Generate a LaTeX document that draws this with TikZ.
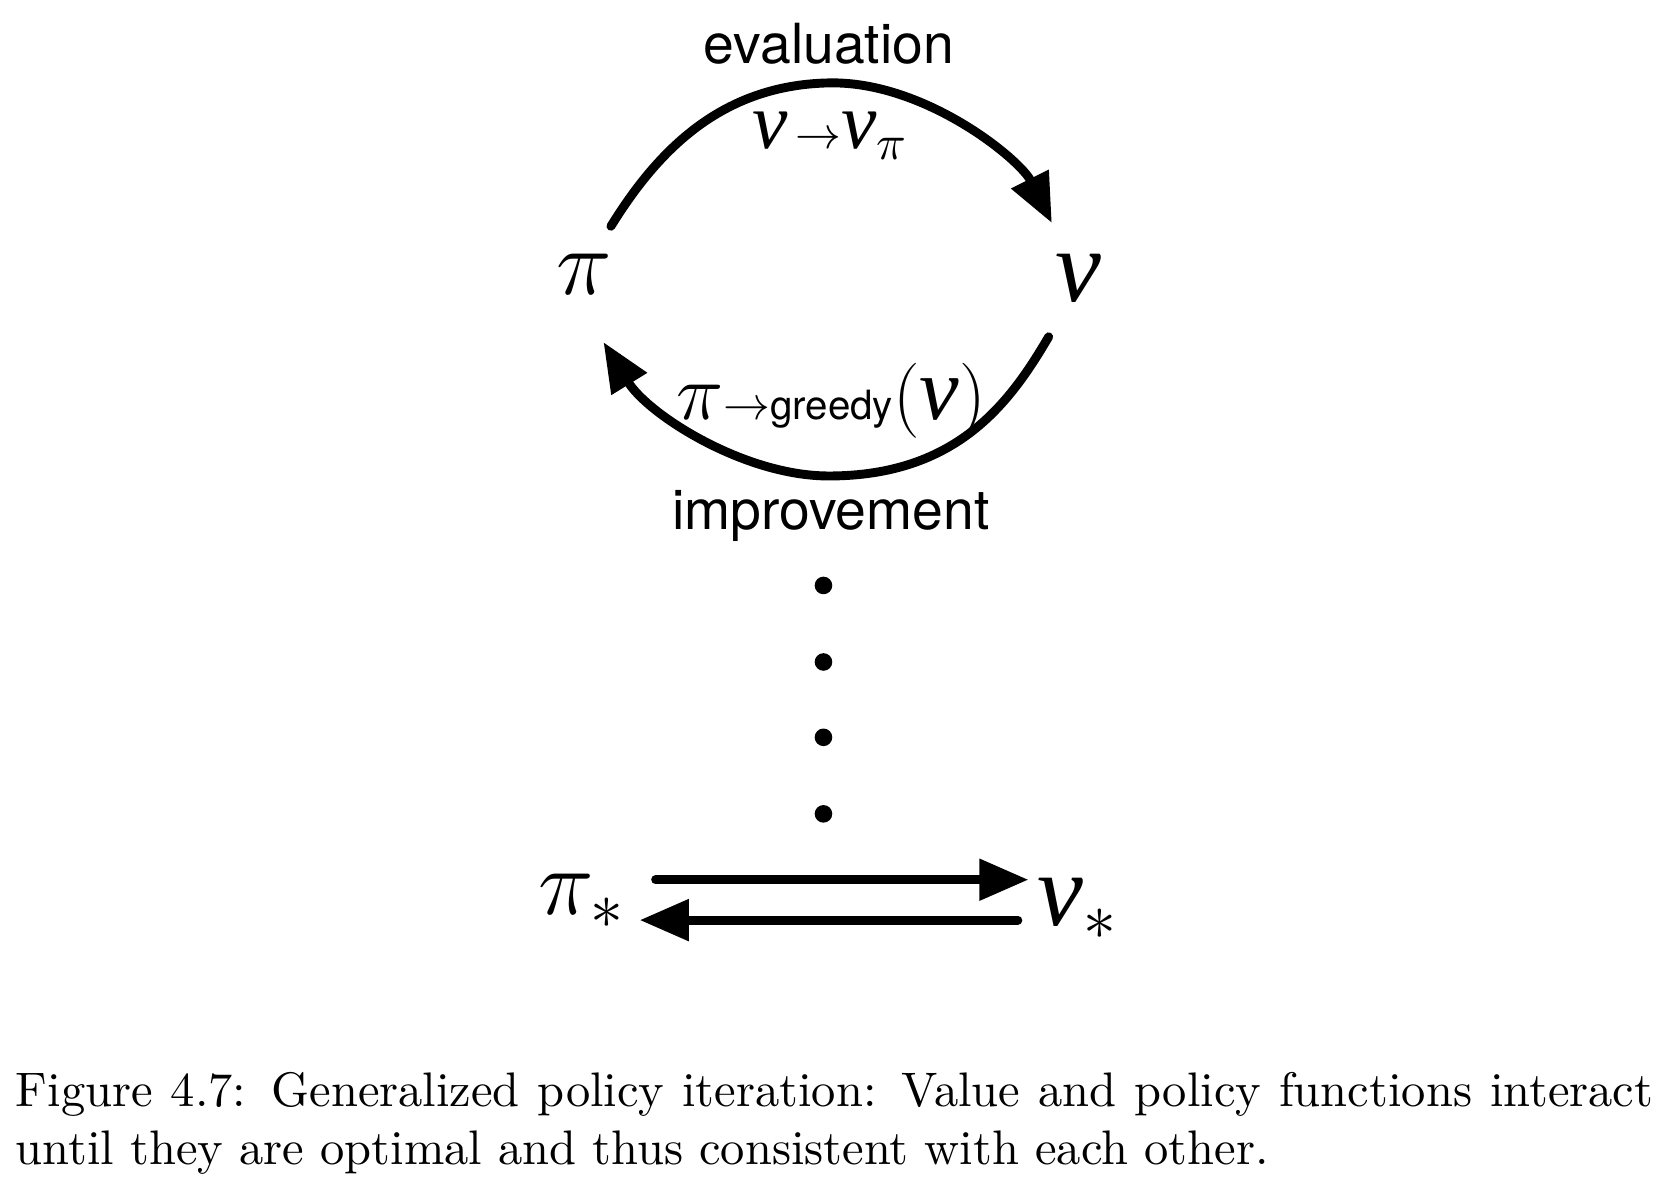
\documentclass[tikz,border=0pt]{standalone}
\usepackage{fix-cm}
\usepackage{amssymb,amsmath}
\usepackage{fontspec}
\newfontfamily\helv{TeX Gyre Heros}
\newfontfamily\tmsit{Liberation Serif Italic}
\usetikzlibrary{arrows.meta}

\begin{document}
\begin{tikzpicture}[conn/.style={line width=1.9pt,line cap=round,-{Triangle[length=10.5pt,width=8.5pt]}},
	word/.style={font=\helv\fontsize{11.8}{13}\selectfont},
	sym/.style={font=\fontsize{20}{24}\selectfont},
	vsym/.style={font=\tmsit\fontsize{22}{26}\selectfont}]
		\useasboundingbox (0,0) rectangle (12.495,8.895);
		\node[sym] (pi) at (4.383,6.839) {$\pi$};
		\node[vsym] (v) at (8.088,6.807) {v};
		\node[word,anchor=base] (evallbl) at (6.216,8.417) {evaluation};
		\node[anchor=base] (evalmath) at (6.23,7.78) {{\tmsit\fontsize{17}{20}\selectfont v}\,{\fontsize{9.5}{11}\selectfont$\to$}{\tmsit\fontsize{17}{20}\selectfont v}{\fontsize{15}{18}\selectfont$_\pi$}};
		\node[anchor=base] (imprmath) at (6.232,5.747) {{\fontsize{17}{20}\selectfont$\pi$}{\fontsize{10}{11}\selectfont$\to$}{\helv\fontsize{8.6}{10}\selectfont greedy}{\fontsize{16}{19}\selectfont(}{\tmsit\fontsize{19}{22}\selectfont v}{\fontsize{16}{19}\selectfont)}};
		\node[word,anchor=base] (imprlbl) at (6.232,4.926) {improvement};
		\coordinate (evalstart) at (4.582,7.198);
		\coordinate (evalend) at (7.889,7.222);
		\coordinate (imprstart) at (7.865,6.369);
		\coordinate (imprend) at (4.526,6.329);
		\draw[conn] (evalstart) .. controls (4.941,7.779) and (5.419,8.257) .. (6.216,8.273) .. controls (6.933,8.289) and (7.650,7.700) .. (evalend);
		\draw[conn] (imprstart) .. controls (7.571,5.867) and (7.172,5.325) .. (6.216,5.325) .. controls (5.578,5.325) and (4.861,5.787) .. (imprend);
		\foreach \y in {4.504,3.930,3.365,2.791}
			\fill (6.176,\y) circle (0.066);
		\node[sym] (pistar) at (4.367,2.137) {$\pi_*$};
		\node[vsym] (vstar) at (8.088,2.082) {v{\fontsize{20}{24}\selectfont$_*$}};
		\coordinate (fwdstart) at (4.917,2.297);
		\coordinate (fwdend) at (7.714,2.297);
		\coordinate (backstart) at (7.634,1.994);
		\coordinate (backend) at (4.797,1.994);
		\draw[conn] (fwdstart) -- (fwdend);
		\draw[conn] (backstart) -- (backend);
		\node[anchor=north west,inner sep=0,text width=12.28cm,align=justify,font=\fontsize{10.35}{12.3}\selectfont] (caption) at (0.1125,0.86) {Figure 4.7: Generalized policy iteration: Value and policy functions interact\linebreak until they are optimal and thus consistent with each other.};
	\end{tikzpicture}
\end{document}
